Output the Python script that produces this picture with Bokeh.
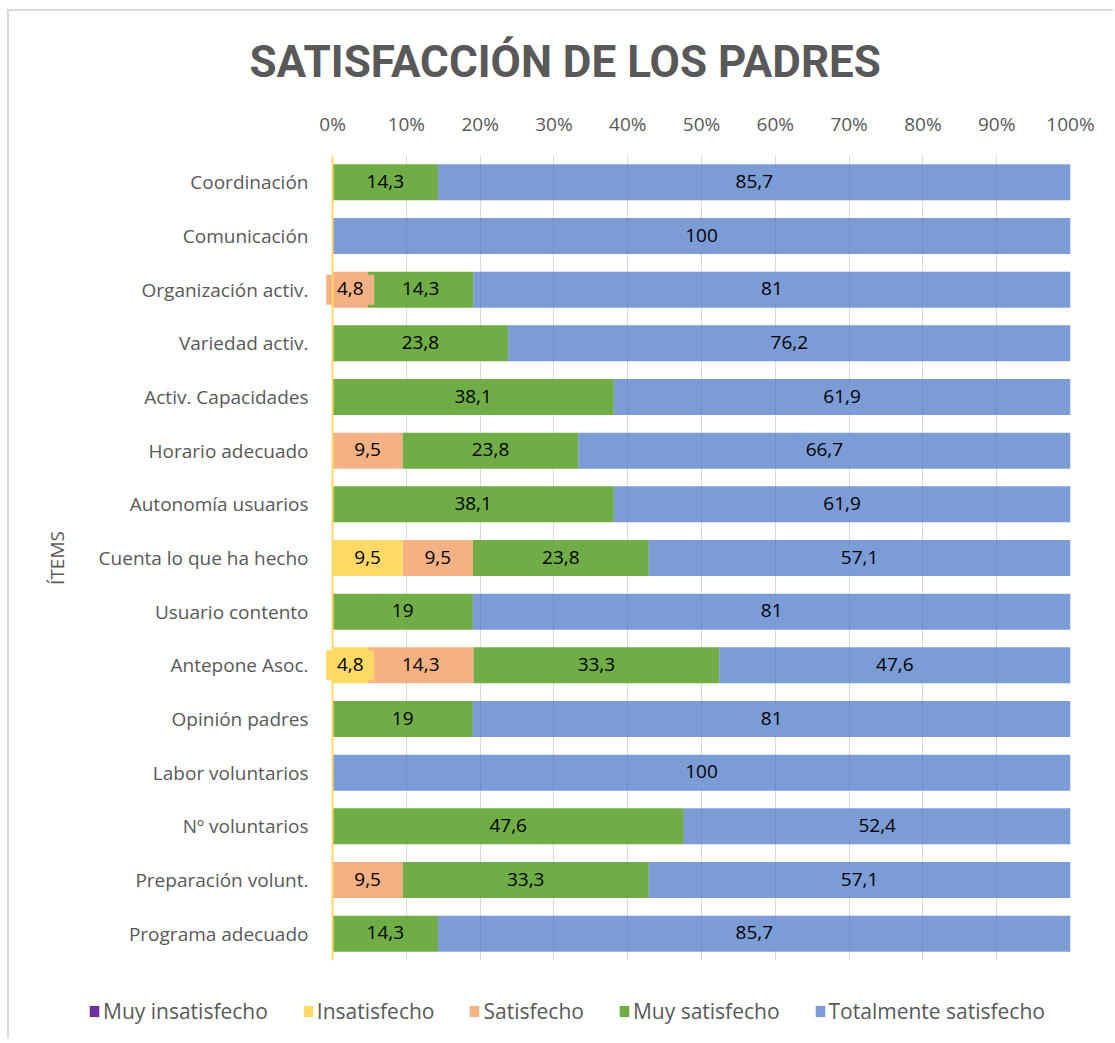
from bokeh.plotting import figure
from bokeh.models import (ColumnDataSource, FactorRange, FixedTicker, Span, Title,
                          Legend, LegendItem, Range1d)
from bokeh.core.properties import value
from bokeh.embed import file_html
from bokeh.resources import INLINE

# ---- data ----
items = ["Coordinación", "Comunicación", "Organización activ.", "Variedad activ.",
         "Activ. Capacidades", "Horario adecuado", "Autonomía usuarios",
         "Cuenta lo que ha hecho", "Usuario contento", "Antepone Asoc.",
         "Opinión padres", "Labor voluntarios", "Nº voluntarios",
         "Preparación volunt.", "Programa adecuado"]
series = ["Muy insatisfecho", "Insatisfecho", "Satisfecho", "Muy satisfecho",
          "Totalmente satisfecho"]
muy_insatisfecho = [0, 0, 0, 0, 0, 0, 0, 0, 0, 0, 0, 0, 0, 0, 0]
insatisfecho = [0, 0, 0, 0, 0, 0, 0, 9.5, 0, 4.8, 0, 0, 0, 0, 0]
satisfecho = [0, 0, 4.8, 0, 0, 9.5, 0, 9.5, 0, 14.3, 0, 0, 0, 9.5, 0]
muy_satisfecho = [14.3, 0, 14.3, 23.8, 38.1, 23.8, 38.1, 23.8, 19, 33.3, 19, 0, 47.6, 33.3, 14.3]
totalmente = [85.7, 100, 81, 76.2, 61.9, 66.7, 61.9, 57.1, 81, 47.6, 81, 100, 52.4, 57.1, 85.7]
tick_values = [0, 10, 20, 30, 40, 50, 60, 70, 80, 90, 100]
tick_labels = ["0%", "10%", "20%", "30%", "40%", "50%", "60%", "70%", "80%", "90%", "100%"]

colors = ["#7030A0", "#FFD966", "#F4B183", "#70AD47", "#4472C4"]
alphas = [1.0, 1.0, 1.0, 1.0, 0.7]
label_bg = ["#7030A0", "#FFD966", "#F4B183", "#70AD47", "#7C9CD6"]
values = [muy_insatisfecho, insatisfecho, satisfecho, muy_satisfecho, totalmente]

GREY = "#595959"
FONT = "Open Sans"

p = figure(width=1106, height=954, output_backend="svg", toolbar_location=None,
           y_range=FactorRange(factors=list(reversed(items))),
           x_range=Range1d(-1.5, 100), x_axis_location="above",
           min_border_left=312, min_border_right=45, min_border_top=144,
           min_border_bottom=5)
p.outline_line_color = None
p.styles = {"margin-left": "7px", "margin-top": "9px",
            "border-left": "2px solid #D9D9D9", "border-top": "2px solid #D9D9D9"}

totals = [sum(v[i] for v in values) for i in range(len(items))]

left = [0.0] * len(items)
lab_x, lab_y, lab_t, lab_c, lab_w = [], [], [], [], []
for s, vals, col, a, bg in zip(series, values, colors, alphas, label_bg):
    w = [vals[i] / totals[i] * 100 for i in range(len(items))]
    right = [left[i] + w[i] for i in range(len(items))]
    src = ColumnDataSource(dict(y=items, left=list(left), right=right))
    p.hbar(y="y", left="left", right="right", height=0.67, source=src,
           fill_color=col, fill_alpha=a, line_color=None)
    for i in range(len(items)):
        if vals[i] > 0:
            lab_x.append((left[i] + right[i]) / 2)
            lab_y.append(items[i])
            v = vals[i]
            txt = str(int(v)) if float(v).is_integer() else str(v).replace(".", ",")
            lab_t.append(txt)
            lab_c.append(bg)
            lab_w.append(10 * len(txt) + 18)
    left = right

p.add_layout(Span(location=0, dimension="height", line_color="#FFD966", line_width=2))

lsrc = ColumnDataSource(dict(x=lab_x, y=lab_y, t=lab_t, c=lab_c, w=lab_w))
p.rect(x="x", y="y", width="w", height=30, width_units="screen", height_units="screen",
       fill_color="c", line_color=None, source=lsrc)
p.text(x="x", y="y", text="t", source=lsrc, text_align="center",
       text_baseline="middle", text_font=value(FONT), text_font_size="19px",
       text_color="#000000", y_offset=-1)

# axes
p.xaxis.ticker = FixedTicker(ticks=tick_values)
p.xaxis.major_label_overrides = {v: t for v, t in zip(tick_values, tick_labels)}
p.xaxis.axis_line_color = None
p.xaxis.major_tick_line_color = None
p.xaxis.minor_tick_line_color = None
p.xaxis.major_label_text_font = FONT
p.xaxis.major_label_text_font_size = "19px"
p.xaxis.major_label_text_color = GREY
p.xaxis.major_label_standoff = 13

p.yaxis.axis_line_color = None
p.yaxis.major_tick_line_color = None
p.yaxis.major_label_text_font = FONT
p.yaxis.major_label_text_font_size = "19px"
p.yaxis.major_label_text_color = GREY
p.yaxis.major_label_standoff = 7
p.yaxis.axis_label = "ÍTEMS"
p.yaxis.axis_label_standoff = 26
p.yaxis.axis_label_text_font = FONT
p.yaxis.axis_label_text_font_size = "19px"
p.yaxis.axis_label_text_font_style = "normal"
p.yaxis.axis_label_text_color = GREY

p.xgrid.grid_line_color = "#D9D9D9"
p.xgrid.grid_line_width = 1
p.ygrid.grid_line_color = None

# title
p.add_layout(Title(text="SATISFACCIÓN DE LOS PADRES", align="left", offset=-72,
                   standoff=40, text_font="Roboto", text_font_style="bold",
                   text_font_size="44px", text_color=GREY), "above")

# legend strip (separate root so its frame spans the full width)
lg = figure(width=1106, height=75, output_backend="svg", toolbar_location=None,
            x_range=Range1d(0, 1), y_range=Range1d(0, 1),
            min_border_left=0, min_border_right=0, min_border_top=0, min_border_bottom=0)
lg.outline_line_color = None
lg.axis.visible = False
lg.grid.visible = False
lg.styles = {"margin-left": "7px", "border-left": "2px solid #D9D9D9"}
leg_items = []
for s, col, a in zip(series, colors, alphas):
    r = lg.hbar(y=[0.5], left=[0], right=[0], height=0.5, fill_color=col, fill_alpha=a,
                line_color=None)
    leg_items.append(LegendItem(label=s, renderers=[r]))
legend = Legend(items=leg_items, orientation="horizontal", location=(79, 13),
                padding=0, margin=0, spacing=34, label_standoff=3,
                glyph_width=12, glyph_height=14, label_text_font=FONT,
                label_text_font_size="21px", label_text_color=GREY,
                border_line_color=None, background_fill_alpha=0)
lg.add_layout(legend, "center")

open("out.html", "w").write(file_html([p, lg], INLINE))
